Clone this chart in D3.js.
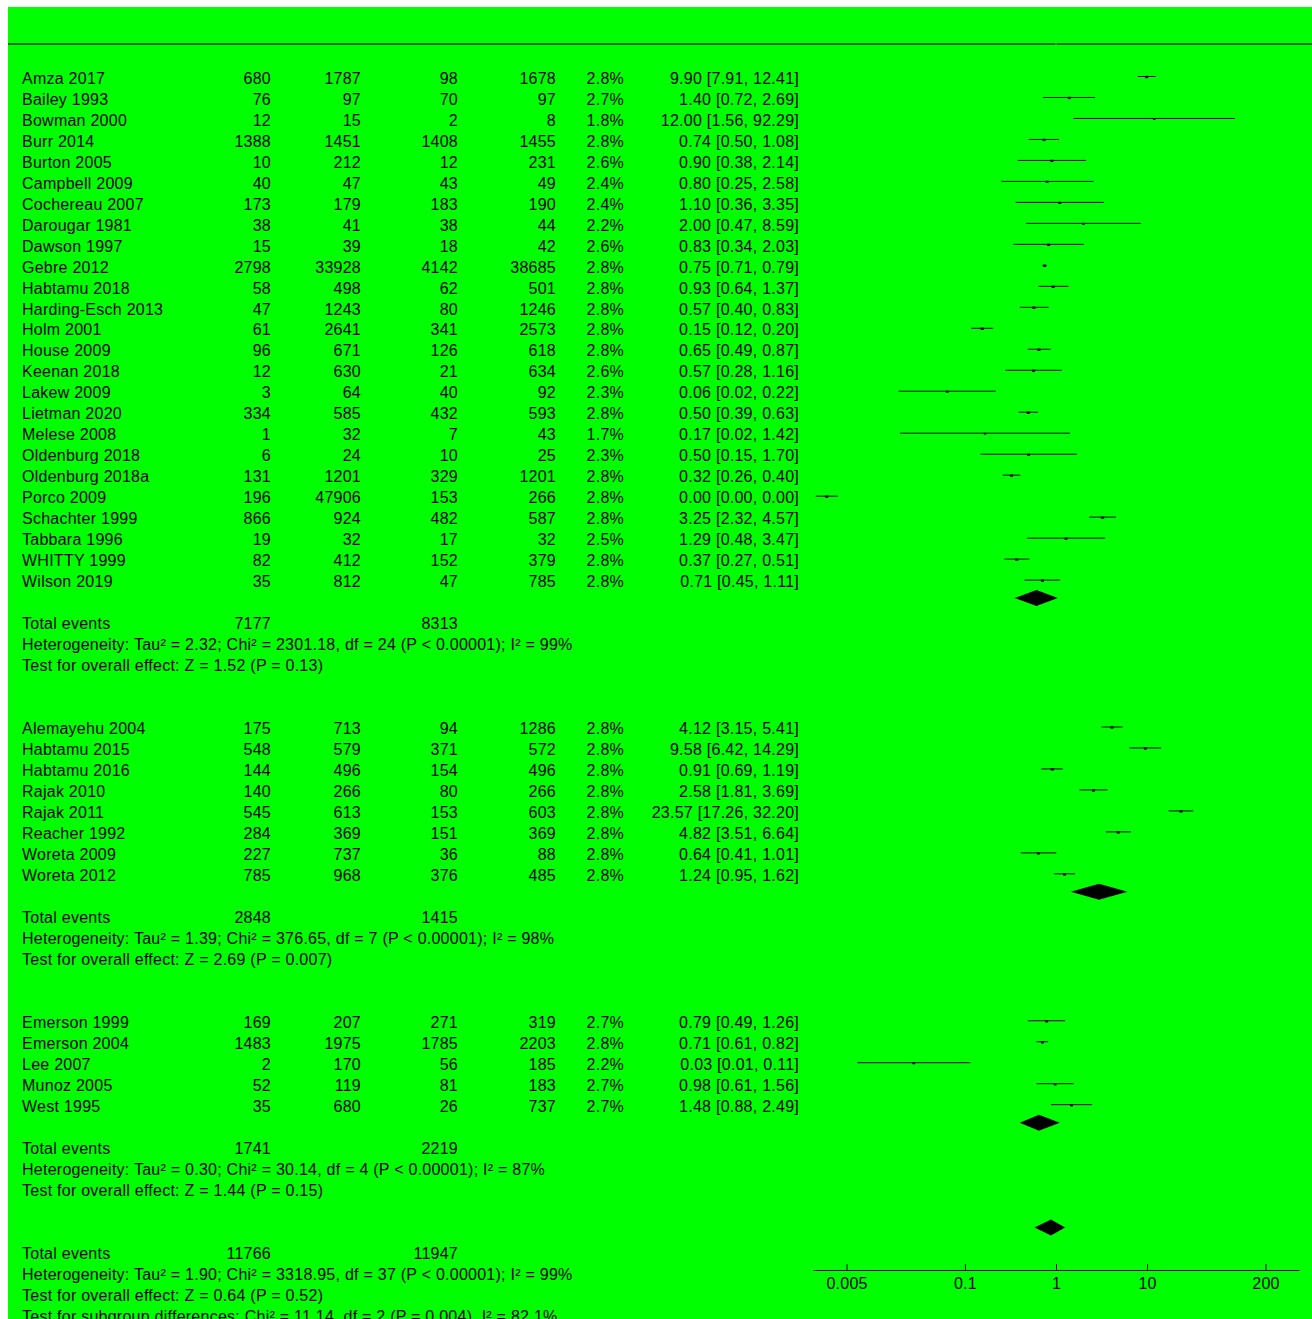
<!DOCTYPE html>
<html>
<head>
<meta charset="utf-8">
<script src="https://cdn.jsdelivr.net/npm/d3@7"></script>
<style>
body { margin: 0; background: #fff; }
#forest text { font-family: "Liberation Sans", Arial, sans-serif; font-size: 16px; fill: #000; letter-spacing: 0.25px; }
</style>
</head>
<body>
<svg id="forest" width="1312" height="1319"></svg>
<script>
// study rows: name, events (exp), total (exp), events (ctrl), total (ctrl), weight %, OR, lower, upper
const group1Studies = [
    ["Amza 2017", 680, 1787, 98, 1678, 2.8, 9.904, 7.906, 12.41],
    ["Bailey 1993", 76, 97, 70, 97, 2.7, 1.40, 0.72, 2.69],
    ["Bowman 2000", 12, 15, 2, 8, 1.8, 12.00, 1.56, 92.29],
    ["Burr 2014", 1388, 1451, 1408, 1455, 2.8, 0.74, 0.50, 1.08],
    ["Burton 2005", 10, 212, 12, 231, 2.6, 0.90, 0.38, 2.14],
    ["Campbell 2009", 40, 47, 43, 49, 2.4, 0.80, 0.25, 2.58],
    ["Cochereau 2007", 173, 179, 183, 190, 2.4, 1.10, 0.36, 3.35],
    ["Darougar 1981", 38, 41, 38, 44, 2.2, 2.00, 0.47, 8.59],
    ["Dawson 1997", 15, 39, 18, 42, 2.6, 0.83, 0.34, 2.03],
    ["Gebre 2012", 2798, 33928, 4142, 38685, 2.8, 0.75, 0.71, 0.79],
    ["Habtamu 2018", 58, 498, 62, 501, 2.8, 0.93, 0.64, 1.37],
    ["Harding-Esch 2013", 47, 1243, 80, 1246, 2.8, 0.57, 0.40, 0.83],
    ["Holm 2001", 61, 2641, 341, 2573, 2.8, 0.1548, 0.1172, 0.2044],
    ["House 2009", 96, 671, 126, 618, 2.8, 0.65, 0.49, 0.87],
    ["Keenan 2018", 12, 630, 21, 634, 2.6, 0.5668, 0.2765, 1.162],
    ["Lakew 2009", 3, 64, 40, 92, 2.3, 0.0639, 0.0187, 0.2188],
    ["Lietman 2020", 334, 585, 432, 593, 2.8, 0.4959, 0.3885, 0.633],
    ["Melese 2008", 1, 32, 7, 43, 1.7, 0.1659, 0.0193, 1.424],
    ["Oldenburg 2018", 6, 24, 10, 25, 2.3, 0.50, 0.1473, 1.6975],
    ["Oldenburg 2018a", 131, 1201, 329, 1201, 2.8, 0.3245, 0.2601, 0.4048],
    ["Porco 2009", 196, 47906, 153, 266, 2.8, 0.00303, 0.00229, 0.00402],
    ["Schachter 1999", 866, 924, 482, 587, 2.8, 3.25, 2.32, 4.57],
    ["Tabbara 1996", 19, 32, 17, 32, 2.5, 1.29, 0.48, 3.47],
    ["WHITTY 1999", 82, 412, 152, 379, 2.8, 0.3711, 0.27, 0.51],
    ["Wilson 2019", 35, 812, 47, 785, 2.8, 0.71, 0.45, 1.11]
];
const group2Studies = [
    ["Alemayehu 2004", 175, 713, 94, 1286, 2.8, 4.12, 3.15, 5.41],
    ["Habtamu 2015", 548, 579, 371, 572, 2.8, 9.58, 6.42, 14.29],
    ["Habtamu 2016", 144, 496, 154, 496, 2.8, 0.91, 0.69, 1.19],
    ["Rajak 2010", 140, 266, 80, 266, 2.8, 2.58, 1.81, 3.69],
    ["Rajak 2011", 545, 613, 153, 603, 2.8, 23.57, 17.26, 32.20],
    ["Reacher 1992", 284, 369, 151, 369, 2.8, 4.82, 3.51, 6.64],
    ["Woreta 2009", 227, 737, 36, 88, 2.8, 0.64, 0.41, 1.01],
    ["Woreta 2012", 785, 968, 376, 485, 2.8, 1.24, 0.95, 1.62]
];
const group3Studies = [
    ["Emerson 1999", 169, 207, 271, 319, 2.7, 0.79, 0.49, 1.26],
    ["Emerson 2004", 1483, 1975, 1785, 2203, 2.8, 0.71, 0.61, 0.82],
    ["Lee 2007", 2, 170, 56, 185, 2.2, 0.0274, 0.00657, 0.1145],
    ["Munoz 2005", 52, 119, 81, 183, 2.7, 0.98, 0.61, 1.56],
    ["West 1995", 35, 680, 26, 737, 2.7, 1.48, 0.88, 2.49]
];

// pooled estimates per subgroup and overall: [OR, lower, upper]
const pooledEstimates = [[0.61, 0.35, 1.05], [2.97, 1.45, 6.1], [0.65, 0.40, 1.10]];
const overallPooled = [0.88, 0.58, 1.26];

const totalEvents = [[7177, 8313], [2848, 1415], [1741, 2219]];
const overallTotalEvents = [11766, 11947];

const heterogeneityText = [
    "Heterogeneity: Tau² = 2.32; Chi² = 2301.18, df = 24 (P < 0.00001); I² = 99%",
    "Heterogeneity: Tau² = 1.39; Chi² = 376.65, df = 7 (P < 0.00001); I² = 98%",
    "Heterogeneity: Tau² = 0.30; Chi² = 30.14, df = 4 (P < 0.00001); I² = 87%"
];
const overallEffectText = [
    "Test for overall effect: Z = 1.52 (P = 0.13)",
    "Test for overall effect: Z = 2.69 (P = 0.007)",
    "Test for overall effect: Z = 1.44 (P = 0.15)"
];
const overallLines = [
    "Heterogeneity: Tau² = 1.90; Chi² = 3318.95, df = 37 (P < 0.00001); I² = 99%",
    "Test for overall effect: Z = 0.64 (P = 0.52)",
    "Test for subgroup differences: Chi² = 11.14, df = 2 (P = 0.004), I² = 82.1%"
];

const axisTicks = [0.005, 0.1, 1, 10, 200];

/**
 * column right edges for the numeric text columns
 */
const columns = {
    name: 22,
    e1: 271,
    n1: 361,
    e2: 458,
    n2: 556,
    weight: 624,
    ci: 799
};

const svg = d3.select("#forest");

// green panel
svg.append("rect")
    .attr("x", 8).attr("y", 7)
    .attr("width", 1304).attr("height", 1312)
    .attr("fill", "#00ff00");

// header rule
svg.append("line")
    .attr("x1", 8).attr("x2", 1312)
    .attr("y1", 44).attr("y2", 44)
    .attr("stroke", "#063a06")
    .attr("stroke-width", 1.5);

const x = d3.scaleLog()
    .domain([1 / 467, 467])
    .range([813, 1299]);

const y = d3.scaleLinear()
    .domain([0, 59])
    .range([78, 1316]);

// null line drawn in background colour (only shows as a gap in the header rule)
svg.append("line")
    .attr("x1", x(1)).attr("x2", x(1))
    .attr("y1", 30).attr("y2", 1250)
    .attr("stroke", "#00ff00")
    .attr("stroke-width", 1);

// lay out the rows
const studyRows = [];
const diamondRows = [];
const textRows = [];
const groups = [group1Studies, group2Studies, group3Studies];
let row = 0;
groups.forEach(function(studies, gi){
    studies.forEach(function(s){
        studyRows.push({row: row++, s: s});
    });
    diamondRows.push({row: row++, est: pooledEstimates[gi]});
    textRows.push({row: row, text: "Total events", e1: totalEvents[gi][0], e2: totalEvents[gi][1]});
    row++;
    textRows.push({row: row++, text: heterogeneityText[gi]});
    textRows.push({row: row++, text: overallEffectText[gi]});
    row += 2;
});
row -= 1;
diamondRows.push({row: row++, est: overallPooled});
textRows.push({row: row, text: "Total events", e1: overallTotalEvents[0], e2: overallTotalEvents[1]});
row++;
overallLines.forEach(function(t){
    textRows.push({row: row++, text: t});
});

const baseline = function(r){ return y(r) + 5.7; };
const f2 = d3.format(".2f");
const f1 = d3.format(".1f");

// study text
const studyG = svg.append("g").attr("id", "studies");
studyRows.forEach(function(d){
    const s = d.s;
    const yy = baseline(d.row);
    studyG.append("text").attr("x", columns.name).attr("y", yy).text(s[0]);
    const cells = [
        [columns.e1, s[1]], [columns.n1, s[2]], [columns.e2, s[3]], [columns.n2, s[4]],
        [columns.weight, f1(s[5]) + "%"],
        [columns.ci, f2(s[6]) + " [" + f2(s[7]) + ", " + f2(s[8]) + "]"]
    ];
    cells.forEach(function(c){
        studyG.append("text")
            .attr("x", c[0]).attr("y", yy)
            .attr("text-anchor", "end")
            .text(c[1]);
    });
});

// summary text
const sumG = svg.append("g").attr("id", "summaries");
textRows.forEach(function(d){
    const yy = baseline(d.row);
    sumG.append("text").attr("x", columns.name).attr("y", yy).text(d.text);
    if(d.e1 !== undefined){
        sumG.append("text").attr("x", columns.e1).attr("y", yy).attr("text-anchor", "end").text(d.e1);
        sumG.append("text").attr("x", columns.e2).attr("y", yy).attr("text-anchor", "end").text(d.e2);
    }
});

// confidence intervals and weight squares
const plotG = svg.append("g").attr("id", "plot");
plotG.selectAll("line.ci")
    .data(studyRows)
    .enter()
    .append("line")
    .attr("class", "ci")
    .attr("x1", d => x(d.s[7]))
    .attr("x2", d => x(d.s[8]))
    .attr("y1", d => y(d.row) - 1.5)
    .attr("y2", d => y(d.row) - 1.5)
    .attr("stroke", "#000")
    .attr("stroke-width", 1);

plotG.selectAll("rect.box")
    .data(studyRows)
    .enter()
    .append("rect")
    .attr("class", "box")
    .attr("x", d => x(d.s[6]) - 0.9 * Math.sqrt(d.s[5]))
    .attr("y", d => y(d.row) - 1.5 - 0.7 * Math.sqrt(d.s[5]) + 0.5)
    .attr("width", d => 1.8 * Math.sqrt(d.s[5]))
    .attr("height", d => 1.4 * Math.sqrt(d.s[5]))
    .attr("fill", "#000");

// pooled diamonds
plotG.selectAll("polygon.diamond")
    .data(diamondRows)
    .enter()
    .append("polygon")
    .attr("class", "diamond")
    .attr("points", function(d){
        const yc = y(d.row) - 4.5;
        return [
            [x(d.est[1]), yc],
            [x(d.est[0]), yc - 8],
            [x(d.est[2]), yc],
            [x(d.est[0]), yc + 8]
        ].map(p => p.join(",")).join(" ");
    })
    .attr("fill", "#000");

// log axis
const axisG = svg.append("g")
    .attr("transform", "translate(0,1270)")
    .call(d3.axisBottom(x)
        .tickValues(axisTicks)
        .tickFormat(d3.format("~g"))
        .tickSizeInner(-6)
        .tickSizeOuter(0)
        .tickPadding(8));
axisG.select(".domain").attr("stroke", "#000");
axisG.selectAll(".tick line").attr("stroke", "#000");
axisG.attr("font-family", null).attr("font-size", null);
</script>
</body>
</html>
